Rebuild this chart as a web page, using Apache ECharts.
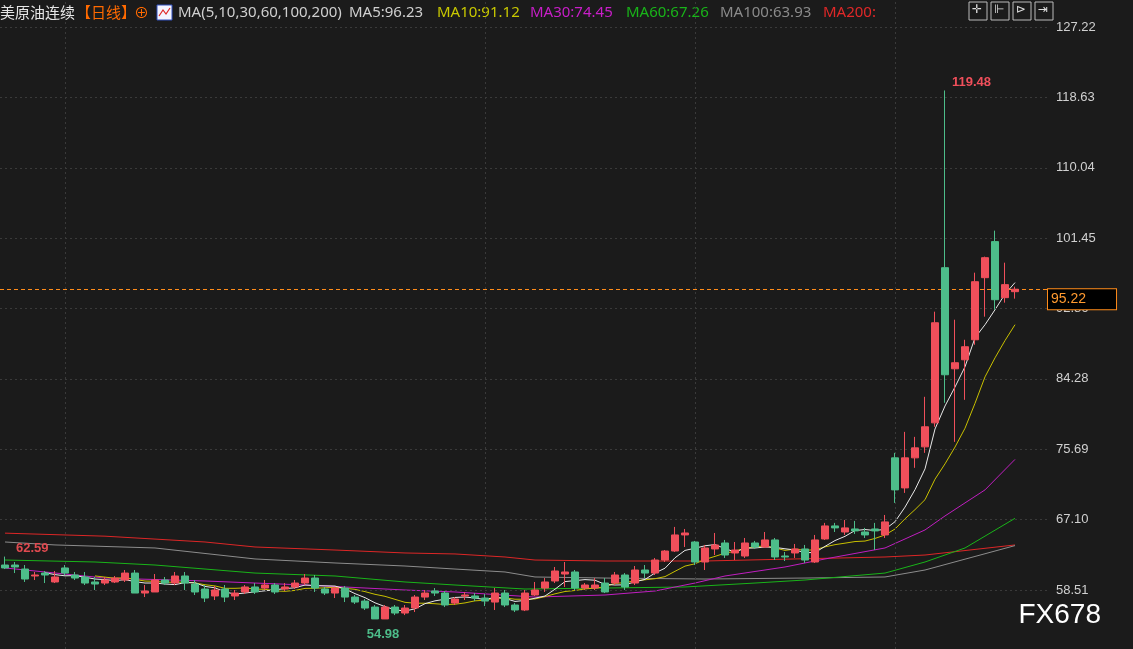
<!DOCTYPE html>
<html><head><meta charset="utf-8">
<script src="https://cdn.jsdelivr.net/npm/echarts@6/dist/echarts.min.js"></script>
<style>html,body{margin:0;padding:0;background:#1b1b1b}#c{width:1133px;height:649px}</style>
</head><body><div id="c"></div>
<script>
const opens  = [61.56,61.56,61.07,60.22,60.58,59.49,61.20,60.34,60.10,59.49,59.36,59.49,59.73,60.58,58.14,58.27,59.73,59.36,60.22,59.24,58.63,57.78,58.63,57.78,58.27,58.88,58.75,59.12,58.63,58.88,59.36,59.97,58.63,58.14,58.75,57.65,57.16,56.43,54.98,56.43,55.70,56.31,57.65,58.39,58.14,56.92,57.78,57.78,57.53,57.04,58.14,56.68,56.07,57.90,58.75,59.61,60.46,60.71,58.75,58.75,59.36,59.36,60.34,59.36,60.95,60.58,62.17,63.27,65.23,64.37,61.93,63.52,64.25,63.03,62.66,64.25,63.76,64.62,62.66,63.03,63.52,61.93,64.74,66.33,65.59,65.96,65.59,65.96,65.23,74.64,70.97,74.64,75.98,78.91,97.85,85.51,86.61,89.05,96.63,101.03,94.19,94.92];
const closes = [61.20,61.32,59.85,60.34,60.34,60.10,60.58,59.97,59.36,59.24,59.73,59.97,60.58,58.14,58.39,59.73,59.36,60.22,59.36,58.27,57.53,58.51,57.65,58.14,58.88,58.27,59.12,58.27,58.88,59.36,59.97,58.75,58.14,58.75,57.65,57.04,56.31,54.98,56.43,55.70,56.31,57.65,58.14,58.14,56.68,57.41,57.90,57.53,57.16,58.14,56.68,56.07,58.14,58.51,59.49,60.83,60.71,58.75,59.12,59.12,58.27,60.34,58.88,60.95,60.58,62.17,63.27,65.23,65.47,61.93,63.64,64.01,62.78,63.39,64.25,63.76,64.62,62.54,62.54,63.52,62.17,64.62,66.33,66.09,66.09,65.72,65.23,65.72,66.82,70.73,74.64,75.86,78.43,91.13,84.78,86.25,88.20,96.14,99.07,93.94,95.78,95.22];
const lows   = [61.07,60.58,59.49,59.73,59.36,59.36,60.34,59.73,59.12,58.51,59.12,59.36,59.49,58.14,57.65,58.27,59.12,59.12,58.51,57.90,57.04,57.29,57.04,57.29,58.02,58.02,58.51,58.02,58.39,58.63,59.12,58.27,57.90,57.53,57.04,56.80,56.07,54.98,55.10,55.45,55.45,55.82,57.29,57.78,56.43,56.68,57.29,57.16,56.55,56.07,56.43,55.82,55.94,57.78,58.27,59.36,58.88,58.51,58.51,58.51,58.14,59.12,58.51,59.12,59.97,60.34,61.93,63.15,63.76,61.56,60.95,62.78,62.42,62.17,62.42,63.52,63.64,62.17,62.05,62.42,61.81,61.81,64.62,65.59,65.23,65.35,64.86,63.39,64.86,69.14,70.36,73.42,75.25,78.43,81.36,76.59,81.72,88.44,91.87,92.72,93.58,94.07];
const highs  = [62.59,61.93,61.56,60.71,60.83,60.83,61.56,60.71,60.71,60.10,60.10,60.22,60.95,60.95,59.12,60.46,60.10,60.71,60.71,59.73,59.12,59.00,59.12,58.51,59.12,59.36,59.73,59.36,59.36,59.73,60.46,60.34,58.88,58.88,59.00,57.90,57.41,56.68,56.68,56.68,56.68,57.90,58.51,58.75,58.39,57.65,58.27,58.14,58.02,58.75,58.51,56.92,58.51,59.49,59.97,61.32,61.93,60.95,59.36,59.97,59.97,60.71,60.58,61.44,61.56,62.42,63.39,66.21,65.96,64.50,64.01,65.47,64.62,64.37,64.86,64.50,65.59,64.86,63.15,64.13,64.01,65.23,66.70,66.70,67.06,66.94,66.09,66.70,67.67,75.25,77.81,77.20,82.09,92.48,119.48,91.50,89.05,97.24,99.20,102.37,98.46,95.53];
const ma30Idx = [0,10,20,25,30,40,45,53,60,65,69,72,78,82,88,92,94,98,101];
const ma30Val = [61.20,59.97,59.61,59.36,59.12,58.51,58.27,57.65,57.90,58.39,59.36,60.22,61.32,62.30,63.64,65.84,67.55,70.73,74.45];
const ma60Idx = [0,9,15,25,33,40,45,52,60,68,75,80,88,92,96,101];
const ma60Val = [62.17,61.93,61.56,60.58,60.22,59.49,59.12,58.63,58.75,58.88,59.36,59.73,60.58,61.93,63.64,67.26];
const ma100Idx = [0,5,15,25,33,40,45,50,53,60,70,80,88,92,101];
const ma100Val = [64.37,64.01,63.64,62.30,61.81,61.44,61.07,60.71,60.10,59.97,59.85,59.97,60.10,60.95,63.93];
const ma200Idx = [0,10,20,25,33,40,45,50,53,60,70,79,88,92,101];
const ma200Val = [65.45,65.08,64.37,63.76,63.39,63.03,62.91,62.54,62.17,62.05,62.05,62.30,62.54,62.78,64.01];
const yTicks = [58.51,67.10,75.69,84.28,92.86,101.45,110.04,118.63,127.22];
const headerTexts = ['美原油连续','【日线】','⊕','MA(5,10,30,60,100,200)','MA5:96.23','MA10:91.12','MA30:74.45','MA60:67.26','MA100:63.93','MA200:'];
const lastPrice = 95.22;
const yMin = 51.31, yMax = 130.52;

const N = opens.length, TOTAL = 105;
const cats = Array.from({length: TOTAL}, (_, i) => String(i));
const kdata = opens.map((o, i) => [o, closes[i], lows[i], highs[i]]);
function ma(n){ return closes.map((_, i) => i < n - 1 ? null : +(closes.slice(i-n+1, i+1).reduce((a,b)=>a+b,0)/n).toFixed(3)); }
function sparse(idx, val){ const a = new Array(N).fill(null); idx.forEach((k,j)=>a[k]=val[j]); return a; }
const vlines = [6,48,69,89];
const lineS = (name, data, color) => ({name, type:'line', data, symbol:'none', connectNulls:true, smooth:false, lineStyle:{width:1, color}, silent:true, z:3});

const hx = [0,76,134,178,349,437,530,626,720,823];
const hc = ['#e6e6e6','#ff6a00','#ff6a00','#cfcfcf','#cfcfcf','#c8c800','#c81ec8','#19b419','#8a8a8a','#e02828'];
const header = headerTexts.map((t,k)=>({type:'text', x:hx[k], y:5, style:{text:t, fill:hc[k],
  font:(k<3?'15px "Noto Sans CJK SC"':'15px "Noto Sans"')}}));

const chart = echarts.init(document.getElementById('c'));
chart.setOption({
  backgroundColor:'#1b1b1b',
  animation:false,
  grid:{left:0, width:1050, top:0, height:649, containLabel:false},
  xAxis:{type:'category', data:cats, boundaryGap:true, axisLine:{show:false}, axisTick:{show:false}, axisLabel:{show:false}, splitLine:{show:false}},
  yAxis:{type:'value', position:'right', min:yMin, max:yMax,
    axisLine:{show:false}, axisTick:{show:false, customValues:yTicks},
    axisLabel:{color:'#d0d0d0', fontSize:13, margin:6, fontFamily:'Liberation Sans', customValues:yTicks, formatter:v=>v.toFixed(2)},
    splitLine:{show:false}},
  graphic:[
    ...header,
    {type:'rect', shape:{x:157, y:5, width:15, height:15}, style:{fill:'#f4f4ff', stroke:'#3050c0', lineWidth:1}},
    {type:'polyline', shape:{points:[[159,16],[163,10],[166,14],[170,8]]}, style:{stroke:'#e02828', lineWidth:1.2, fill:null}},
    {type:'text', right:32, bottom:20, style:{text:'FX678', fill:'#ffffff', font:'28px "Liberation Sans"', letterSpacing:2}},
    ...[0,1,2,3].map(k=>({type:'rect', shape:{x:969+k*22, y:2, width:18, height:18}, style:{fill:'#1b1b1b', stroke:'#bbbbbb', lineWidth:1}})),
    ...['✛','⊩','⊳','⇥'].map((s,k)=>({type:'text', x:972+k*22, y:4, style:{text:s, fill:'#dddddd', font:'12px "DejaVu Sans"'}}))
  ],
  series:[
    {type:'candlestick', data:kdata, barWidth:7, z:5,
     itemStyle:{color:'#f04f5b', color0:'#4dbd8a', borderColor:'#f04f5b', borderColor0:'#4dbd8a', borderWidth:1},
     markPoint:{symbol:'circle', symbolSize:0, data:[
        {coord:[String(highs.indexOf(Math.max(...highs))), Math.max(...highs)], value:Math.max(...highs).toFixed(2),
         label:{show:true, position:'right', offset:[2,-8], color:'#f04f5b', fontSize:13, fontWeight:'bold', formatter:'{c}'}},
        {coord:[String(lows.indexOf(Math.min(...lows))), Math.min(...lows)], value:Math.min(...lows).toFixed(2),
         label:{show:true, position:'bottom', offset:[8,4], color:'#4dbd8a', fontSize:13, fontWeight:'bold', formatter:'{c}'}},
        {coord:['0', highs[0]], value:highs[0].toFixed(2),
         label:{show:true, position:'right', offset:[6,-8], color:'#e04a50', fontSize:13, fontWeight:'bold', formatter:'{c}'}}
     ]},
     markLine:{symbol:'none', silent:true,
       data:[...yTicks.map(v=>({yAxis:v, lineStyle:{color:'#3a3a3a', type:[2,3], width:1}, label:{show:false}})),
             ...vlines.map(v=>({xAxis:String(v), lineStyle:{color:'#3a3a3a', type:[2,3], width:1}, label:{show:false}})),
             {yAxis:lastPrice, lineStyle:{color:'#ff8c1a', type:[4,3], width:1},
              label:{show:true, position:'end', distance:-2, verticalAlign:'top', formatter:lastPrice.toFixed(2), color:'#ff9a30', fontSize:14,
               backgroundColor:'#000', borderColor:'#ff8c1a', borderWidth:1, padding:[3,30,3,3]}}]}},
    lineS('MA200', sparse(ma200Idx, ma200Val), '#dc2626'),
    lineS('MA100', sparse(ma100Idx, ma100Val), '#8c8c8c'),
    lineS('MA60', sparse(ma60Idx, ma60Val), '#19b419'),
    lineS('MA30', sparse(ma30Idx, ma30Val), '#c01ec0'),
    lineS('MA10', ma(10), '#c8c000'),
    lineS('MA5', ma(5), '#e8e8e8')
  ]
});
</script></body></html>
